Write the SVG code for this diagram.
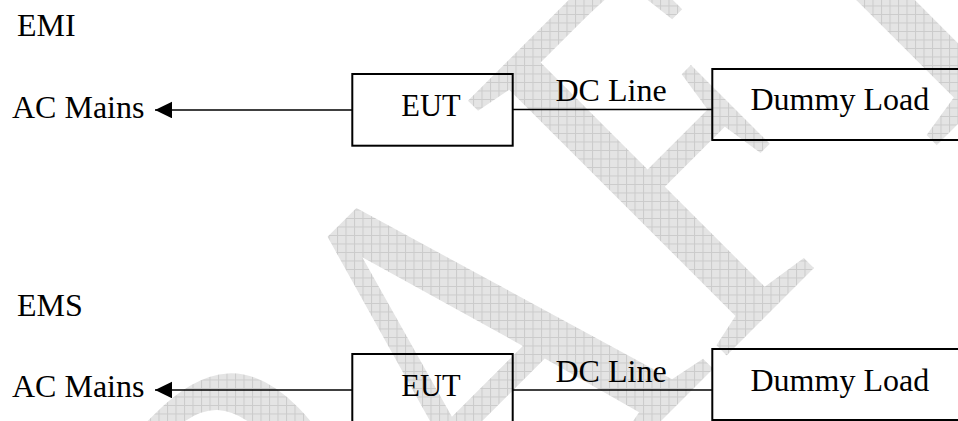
<svg xmlns="http://www.w3.org/2000/svg" width="958" height="421" viewBox="0 0 958 421">
  <style>
    .lbl { font-family: "Liberation Serif", "Times New Roman", serif; font-size: 32px; fill: #000; }
    .eut { font-size: 30.5px; }
    .box { fill: none; stroke: #000; stroke-width: 2; }
    .wire { fill: none; stroke: #000; stroke-width: 1.4; }
    .wm { font-family: "Liberation Serif", "Times New Roman", serif; font-size: 440px; }
  </style>
  <defs>
    <!-- light cross-hatch used by the background watermark; kept axis-aligned on screen -->
    <pattern id="hatch" patternUnits="userSpaceOnUse" width="8.5" height="8.5"
             patternTransform="scale(1,0.7937) rotate(45)">
      <rect width="8.5" height="8.5" fill="#e4e4e4"/>
      <path d="M0 0.5H8.5M0.5 0V8.5" stroke="#cbcbcb" stroke-width="1"/>
    </pattern>
    <marker id="arrow" markerUnits="userSpaceOnUse" markerWidth="18" markerHeight="18"
            refX="17" refY="8.3" orient="auto">
      <path d="M0 0L17 8.3L0 16.6Z" fill="#000"/>
    </marker>
  </defs>

  <rect width="958" height="421" fill="#fff"/>

  <!-- background watermark: tall diagonal word, letters placed one by one -->
  <g id="watermark">
    <text class="wm" fill="url(#hatch)" x="-638 -320 -71 247 492" y="0"
          transform="translate(541,541) rotate(-45) scale(1,1.26)">DRAFT</text>
  </g>

  <!-- section titles -->
  <g id="title-emi"><text class="lbl" x="17" y="36">EMI</text></g>
  <g id="title-ems"><text class="lbl" x="17" y="316">EMS</text></g>

  <!-- EMI setup -->
  <g id="ac-mains-emi"><text class="lbl" x="12" y="118">AC Mains</text></g>
  <g id="eut-emi">
    <rect class="box" x="352.3" y="74" width="160.4" height="71.7"/>
    <text class="lbl eut" x="401.3" y="115.5">EUT</text>
  </g>
  <g id="dummy-load-emi">
    <rect class="box" x="712.3" y="69" width="300" height="71"/>
    <text class="lbl" x="750.5" y="110">Dummy Load</text>
  </g>
  <g id="dc-line-label-emi"><text class="lbl" x="555.5" y="101">DC Line</text></g>

  <!-- EMS setup -->
  <g id="ac-mains-ems"><text class="lbl" x="12" y="397">AC Mains</text></g>
  <g id="eut-ems">
    <rect class="box" x="352.3" y="354" width="160.4" height="71.7"/>
    <text class="lbl eut" x="401.3" y="395.5">EUT</text>
  </g>
  <g id="dummy-load-ems">
    <rect class="box" x="712.3" y="349" width="300" height="71"/>
    <text class="lbl" x="750.5" y="391">Dummy Load</text>
  </g>
  <g id="dc-line-label-ems"><text class="lbl" x="555.5" y="382">DC Line</text></g>

  <!-- connectors -->
  <g id="connectors">
    <line class="wire" x1="352.3" y1="110" x2="155" y2="110" marker-end="url(#arrow)"/>
    <line class="wire" x1="512.7" y1="109.5" x2="712.3" y2="109.5"/>
    <line class="wire" x1="352.3" y1="390" x2="155" y2="390" marker-end="url(#arrow)"/>
    <line class="wire" x1="512.7" y1="390" x2="712.3" y2="390"/>
  </g>
</svg>
